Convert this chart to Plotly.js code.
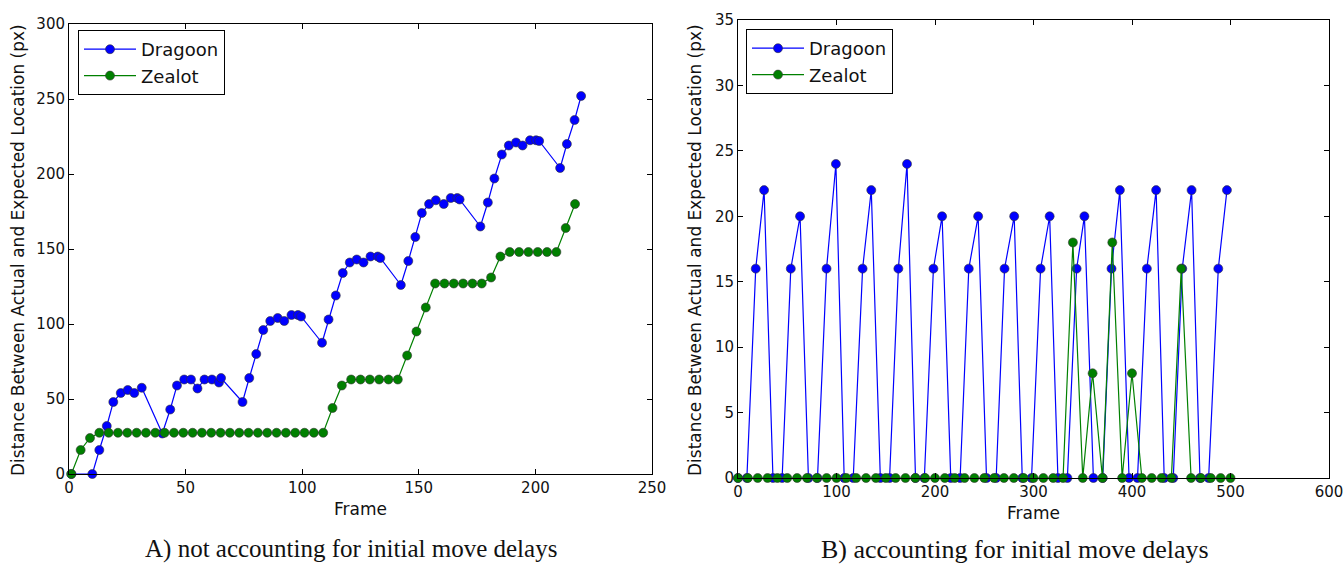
<!DOCTYPE html>
<html>
<head>
<meta charset="utf-8">
<script src="https://cdn.plot.ly/plotly-3.0.1.min.js"></script>
<style>html,body{margin:0;padding:0;background:#fff;}#chart{width:1343px;height:565px;}</style>
</head>
<body>
<div id="chart"></div>
<script>
// ---- Panel A: not accounting for initial move delays ----
var aDragoonFrames = [1,10,13,16.2,19,22.2,25.2,28,31.2,40,43.4,46.3,49.4,52.3,55.1,58.1,61.3,64.3,65.2,74.4,77.3,80.3,83.3,86.3,89.5,92.3,95.4,98.2,99.5,108.5,111.3,114.4,117.4,120.4,123.4,126.3,129.3,132.4,133.5,142.3,145.5,148.5,151.3,154.4,157.3,160.7,163.7,166.5,167.5,176.4,179.6,182.4,185.6,188.6,191.7,194.5,197.7,200.3,201.6,210.6,213.5,216.8,219.6];
var aDragoonDist = [0,0,16,32,48,54,56,54,57.5,27,43,59,63,63,57,63,63,61,64,48,64,80,96,102,104,102,106,106,105,87.5,103,119,134,141,143,141,145,145,144,126,142,158,174,180,182.5,180,184,184,183,165,181,197,213,219,221,219,222.5,222.5,222,204,220,236,252];
var aZealotFrames = [1,5,9,13,17,21,25,29,33,37,41,45,49,53,57,61,65,69,73,77,81,85,89,93,97,101,105,109,113,117,121,125,129,133,137,141,145,149,153,157,161,165,169,173,177,181,185,189,193,197,201,205,209,213,217];
var aZealotDist = [0,16,24,27.5,27.5,27.5,27.5,27.5,27.5,27.5,27.5,27.5,27.5,27.5,27.5,27.5,27.5,27.5,27.5,27.5,27.5,27.5,27.5,27.5,27.5,27.5,27.5,27.5,44,59,63,63,63,63,63,63,79,95,111,127,127,127,127,127,127,131,145,148,148,148,148,148,148,164,180];

// ---- Panel B: accounting for initial move delays ----
var bDragoonFrames = [0,9,18,26.5,35.5,44.8,53.6,63,71.5,80.7,89.9,99.4,107.8,117,126.5,135.3,144.5,153.9,162.8,171.6,180.2,189.2,198.4,207.2,216,225.5,234.3,243.8,252.3,262.1,270.6,280.4,288.6,298,307.2,316.4,324.8,334.4,343.8,351.7,360.8,370.3,379.2,387.7,397,405.6,415.1,424.5,432.7,441.9,451,460.5,469,477.8,487.6,496.4];
var bDragoonDist = [0,0,16,22,0,0,16,20,0,0,16,24,0,0,16,22,0,0,16,24,0,0,16,20,0,0,16,20,0,0,16,20,0,0,16,20,0,0,16,20,0,0,16,22,0,0,16,22,0,0,16,22,0,0,16,22];
var bZealotFrames = [0,10,20,30,40,50,60,70,80,90,100,110,120,130,140,150,160,170,180,190,200,210,220,230,240,250,260,270,280,290,300,310,320,330,340,350,360,370,380,390,400,410,420,430,440,450,460,470,480,490,500];
var bZealotDist = [0,0,0,0,0,0,0,0,0,0,0,0,0,0,0,0,0,0,0,0,0,0,0,0,0,0,0,0,0,0,0,0,0,0,18,0,8,0,18,0,8,0,0,0,0,16,0,0,0,0,0];

var seriesNames = ["Dragoon", "Zealot"];
var aXTicks = [0,50,100,150,200,250];
var aYTicks = [0,50,100,150,200,250,300];
var bXTicks = [0,100,200,300,400,500,600];
var bYTicks = [0,5,10,15,20,25,30,35];
var xTitle = "Frame";
var yTitle = "Distance Between Actual and Expected Location (px)";
var captionA = "A) not accounting for initial move delays";
var captionB = "B) accounting for initial move delays";

var BLUE = "#0000ff", GREEN = "#008000";
var FONT = "DejaVu Sans, sans-serif";
function tr(x, y, name, color, xa, ya, leg) {
  return {
    x: x, y: y, name: name, type: "scatter", mode: "lines+markers",
    xaxis: xa, yaxis: ya, legend: leg, cliponaxis: false,
    line: {color: color, width: 1.2},
    marker: {color: color, size: 9, line: {color: "#333", width: 0.6}}
  };
}
var traces = [
  tr(aDragoonFrames, aDragoonDist, seriesNames[0], BLUE, "x", "y", "legend"),
  tr(aZealotFrames, aZealotDist, seriesNames[1], GREEN, "x", "y", "legend"),
  tr(bDragoonFrames, bDragoonDist, seriesNames[0], BLUE, "x2", "y2", "legend2"),
  tr(bZealotFrames, bZealotDist, seriesNames[1], GREEN, "x2", "y2", "legend2")
];

function ax(dom, range, ticks, anchor) {
  return {
    domain: dom, range: range, tickvals: ticks, ticktext: ticks.map(String),
    anchor: anchor, showgrid: false, zeroline: false,
    showline: true, linecolor: "#000", linewidth: 1, mirror: "allticks",
    ticks: "inside", ticklen: 5, tickwidth: 1, tickcolor: "#000",
    ticklabeloverflow: "allow",
    tickfont: {family: FONT, size: 15, color: "#111"}
  };
}
var W = 1343, H = 565;
function px(v) { return v / W; }
function py(v) { return 1 - v / H; }

var layout = {
  width: W, height: H,
  margin: {l: 0, r: 0, t: 0, b: 0},
  paper_bgcolor: "#fff", plot_bgcolor: "#fff",
  font: {family: FONT, color: "#111"},
  xaxis: ax([px(69), px(652)], [0, 250], aXTicks, "y"),
  yaxis: ax([py(474), py(24)], [0, 300], aYTicks, "x"),
  xaxis2: ax([px(738), px(1329)], [0, 600], bXTicks, "y2"),
  yaxis2: ax([py(478), py(20)], [0, 35], bYTicks, "x2"),
  legend: {x: px(78), y: py(30), xanchor: "left", yanchor: "top",
    bordercolor: "#000", borderwidth: 1, bgcolor: "#fff",
    font: {family: FONT, size: 18, color: "#111"}, itemwidth: 52, tracegroupgap: 0},
  legend2: {x: px(746), y: py(29), xanchor: "left", yanchor: "top",
    bordercolor: "#000", borderwidth: 1, bgcolor: "#fff",
    font: {family: FONT, size: 18, color: "#111"}, itemwidth: 52, tracegroupgap: 0},
  showlegend: true,
  annotations: [
    {text: xTitle, xref: "paper", yref: "paper", x: px(360), y: py(509), showarrow: false,
     xanchor: "center", yanchor: "middle", font: {family: FONT, size: 17, color: "#111"}},
    {text: xTitle, xref: "paper", yref: "paper", x: px(1033), y: py(513), showarrow: false,
     xanchor: "center", yanchor: "middle", font: {family: FONT, size: 17, color: "#111"}},
    {text: yTitle, xref: "paper", yref: "paper", x: px(18), y: py(250), showarrow: false, textangle: -90,
     xanchor: "center", yanchor: "middle", font: {family: FONT, size: 17, color: "#111"}},
    {text: yTitle, xref: "paper", yref: "paper", x: px(695), y: py(250), showarrow: false, textangle: -90,
     xanchor: "center", yanchor: "middle", font: {family: FONT, size: 17, color: "#111"}},
    {text: captionA, xref: "paper", yref: "paper", x: px(351), y: py(549), showarrow: false,
     xanchor: "center", yanchor: "middle", font: {family: "Liberation Serif, serif", size: 25, color: "#111"}},
    {text: captionB, xref: "paper", yref: "paper", x: px(1015), y: py(549), showarrow: false,
     xanchor: "center", yanchor: "middle", font: {family: "Liberation Serif, serif", size: 26, color: "#111"}}
  ]
};
Plotly.newPlot("chart", traces, layout, {displayModeBar: false, staticPlot: true});
</script>
</body>
</html>
